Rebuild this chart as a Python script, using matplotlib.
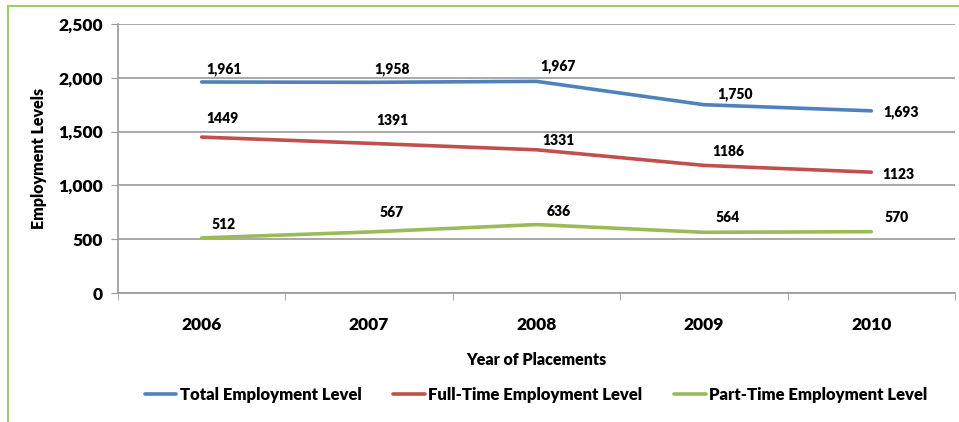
import matplotlib
matplotlib.use('Agg')
import matplotlib.pyplot as plt
from matplotlib.lines import Line2D

# Data
years = ['2006', '2007', '2008', '2009', '2010']
total = [1961, 1958, 1967, 1750, 1693]
full_time = [1449, 1391, 1331, 1186, 1123]
part_time = [512, 567, 636, 564, 570]
total_labels = ['1,961', '1,958', '1,967', '1,750', '1,693']
full_labels = ['1449', '1391', '1331', '1186', '1123']
part_labels = ['512', '567', '636', '564', '570']

# label offsets (pixels) relative to each point
total_off = [(22, 13), (23, 13), (22, 15), (31, 11), (30, -1)]
full_off = [(21, 19), (23, 23), (22, 9), (24, 14), (27, -2)]
part_off = [(22, 13), (23, 19), (22, 13), (24, 15), (25, 14)]

W = 'heavy'
plt.rcParams['font.family'] = ['Lato', 'DejaVu Sans']
plt.rcParams['font.weight'] = W

fig = plt.figure(figsize=(9.59, 4.22), dpi=100)
ax = fig.add_axes([118 / 959, 1 - 293 / 422, (955 - 118) / 959, (293 - 24) / 422])

# green frame around the chart area
fig.add_artist(Line2D([8 / 959, 8 / 959], [0, 1 - 6 / 422], transform=fig.transFigure,
                      color='#9BCB6A', lw=1.5))
fig.add_artist(Line2D([8 / 959, 1], [1 - 6 / 422, 1 - 6 / 422], transform=fig.transFigure,
                      color='#9BCB6A', lw=1.5))

x = list(range(len(years)))
series = [
    (total, total_labels, total_off, '#4F81BD', 'Total Employment Level'),
    (full_time, full_labels, full_off, '#C0504D', 'Full-Time Employment Level'),
    (part_time, part_labels, part_off, '#9BBB59', 'Part-Time Employment Level'),
]
for vals, labels, offs, color, name in series:
    ax.plot(x, vals, color=color, lw=2.6, label=name, solid_capstyle='round')
    for xi, v, lab, (dx, dy) in zip(x, vals, labels, offs):
        ax.annotate(lab, (xi, v), xytext=(dx * 0.72, dy * 0.72), textcoords='offset points',
                    ha='center', va='center', fontsize=10, fontweight=W)

ax.set_xlim(-0.5, 4.5)
ax.set_ylim(0, 2500)
ax.set_yticks(range(0, 2501, 500))
ax.set_yticklabels([f'{v:,}' for v in range(0, 2501, 500)], fontsize=12.5, fontweight=W)
ax.set_xticks(x)
ax.set_xticklabels(years, fontsize=12.5, fontweight=W)
ax.set_xticks([i - 0.5 for i in range(6)], minor=True)
ax.tick_params(axis='x', which='major', length=0, pad=17)
ax.tick_params(axis='x', which='minor', length=5, color='#9A9A9A')
ax.tick_params(axis='y', length=5, color='#9A9A9A', pad=6)

ax.grid(axis='y', color='#9A9A9A', lw=1.2)
ax.set_axisbelow(True)
for side in ['top', 'right']:
    ax.spines[side].set_visible(False)
ax.spines['left'].set_color('#9A9A9A')
ax.spines['bottom'].set_color('#9A9A9A')
ax.spines['left'].set_linewidth(1.2)
ax.spines['bottom'].set_linewidth(1.2)

ax.set_ylabel('Employment Levels', fontsize=11.5, fontweight=W, labelpad=8)
ax.set_xlabel('Year of Placements', fontsize=11.5, fontweight=W, labelpad=14)

fig.legend(loc='center', bbox_to_anchor=(536 / 959, 1 - 395 / 422), ncol=3, frameon=False,
           prop={'size': 12, 'weight': W}, handlelength=1.9, handletextpad=0.2,
           columnspacing=1.9)

fig.savefig('out.png', dpi=100)
